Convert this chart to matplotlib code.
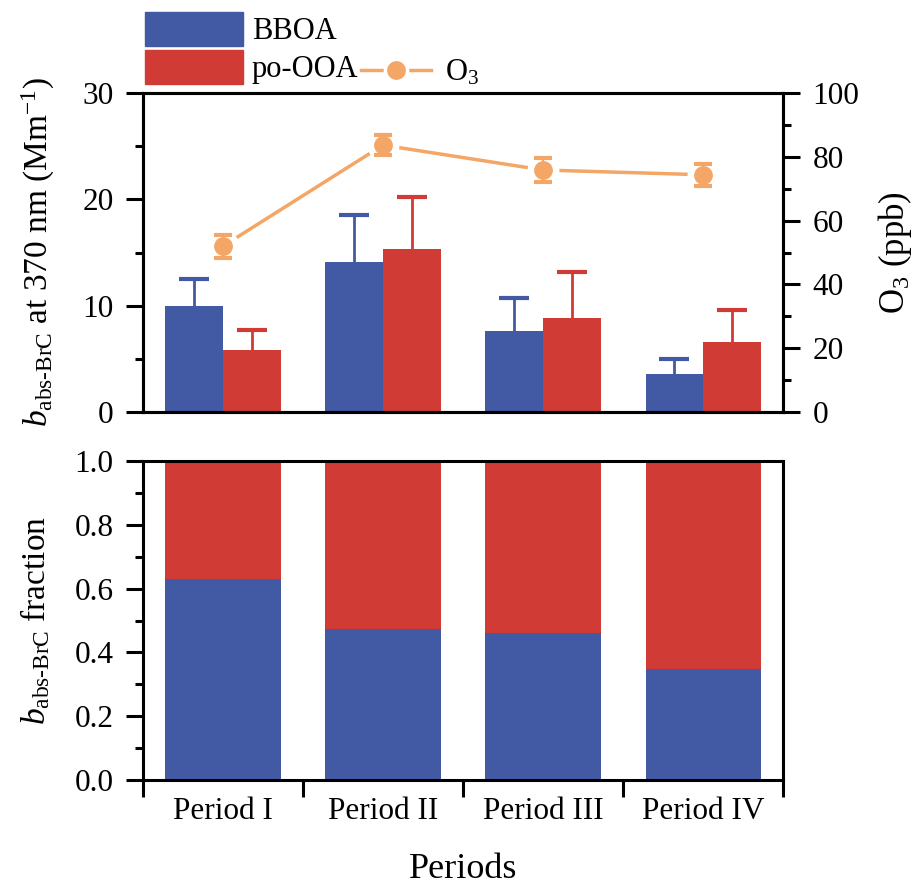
import matplotlib
matplotlib.use("Agg")
import matplotlib.pyplot as plt
import numpy as np
from matplotlib.patches import Patch
from matplotlib.lines import Line2D
from matplotlib.ticker import MultipleLocator

plt.rcParams['font.family'] = ['Liberation Serif', 'DejaVu Serif']
plt.rcParams['mathtext.fontset'] = 'custom'
plt.rcParams['mathtext.rm'] = 'Liberation Serif'
plt.rcParams['mathtext.it'] = 'Liberation Serif:italic'

# data
periods = ['Period I', 'Period II', 'Period III', 'Period IV']
bboa = [10.0, 14.1, 7.65, 3.6]
bboa_err = [2.5, 4.4, 3.1, 1.35]
pooa = [5.8, 15.3, 8.8, 6.55]
pooa_err = [1.95, 4.9, 4.4, 3.05]
o3 = [52.0, 83.7, 75.9, 74.4]
o3_err = [3.6, 3.1, 3.9, 3.4]
frac_bboa = [0.63, 0.473, 0.46, 0.349]

c_blue = '#4259a3'
c_red = '#d03c35'
c_orange = '#f3a665'

fig = plt.figure(figsize=(9.16, 8.89), dpi=100)
ax1 = fig.add_axes([0.156, 0.5366, 0.699, 0.3586])
ax2 = fig.add_axes([0.156, 0.1226, 0.699, 0.3588])

x = np.arange(len(periods))
w = 0.36

ax1.bar(x - w / 2, bboa, w, color=c_blue, zorder=2)
ax1.bar(x + w / 2, pooa, w, color=c_red, zorder=2)
for xs, vals, errs, col in [(x - w / 2, bboa, bboa_err, c_blue),
                            (x + w / 2, pooa, pooa_err, c_red)]:
    eb = ax1.errorbar(xs, vals, yerr=[np.zeros(4), errs], fmt='none',
                      ecolor=col, elinewidth=2, capsize=11, capthick=3, zorder=1)
    eb[1][0].set_visible(False)  # hide lower caps (one-sided bars)
ax1.set_xlim(-0.5, 3.5)
ax1.set_ylim(0, 30)
ax1.set_xticks([])
ax1.yaxis.set_major_locator(MultipleLocator(10))
ax1.yaxis.set_minor_locator(MultipleLocator(5))
ax1.set_ylabel(r'$b_{\mathrm{abs\text{-}BrC}}$ at 370 nm (Mm$^{-1}$)', fontsize=24, labelpad=18)

ax3 = ax1.twinx()
ax3.plot(x, o3, color=c_orange, lw=2.5, zorder=2)
ax3.plot(x, o3, 'o', color='white', ms=22, zorder=3)
ax3.errorbar(x, o3, yerr=o3_err, fmt='o', color=c_orange, ms=12.5,
             elinewidth=1.5, capsize=6.5, capthick=3, zorder=4)
ax3.set_ylim(0, 100)
ax3.yaxis.set_major_locator(MultipleLocator(20))
ax3.yaxis.set_minor_locator(MultipleLocator(10))
ax3.set_ylabel('O$_3$ (ppb)', fontsize=25, labelpad=12)

ax2.bar(x, frac_bboa, 0.72, color=c_blue)
ax2.bar(x, 1 - np.array(frac_bboa), 0.72, bottom=frac_bboa, color=c_red)
ax2.set_xlim(-0.5, 3.5)
ax2.set_ylim(0, 1)
ax2.yaxis.set_minor_locator(MultipleLocator(0.1))
ax2.set_yticks(np.arange(0, 1.01, 0.2))
ax2.set_yticklabels(['%.1f' % v for v in np.arange(0, 1.01, 0.2)])
ax2.set_xticks([-0.5, 0.5, 1.5, 2.5, 3.5])
ax2.set_xticklabels([])
ax2.set_xticks(x, minor=True)
ax2.set_xticklabels(periods, minor=True)
ax2.set_ylabel(r'$b_{\mathrm{abs\text{-}BrC}}$ fraction', fontsize=24, labelpad=16)
ax2.set_xlabel('Periods', fontsize=26, labelpad=20)

for ax in (ax1, ax2, ax3):
    for s in ax.spines.values():
        s.set_linewidth(2.2)
    ax.tick_params(which='major', direction='out', length=12, width=2.2, labelsize=22.5, pad=9)
    ax.tick_params(which='minor', direction='out', length=6, width=2.2)
ax2.tick_params(axis='x', which='minor', length=0, pad=12, labelsize=22.5)
ax1.tick_params(axis='x', which='both', length=0)

# legend
h1 = [Patch(color=c_blue), Patch(color=c_red)]
fig.legend(h1, ['BBOA', 'po-OOA'], loc='upper left', bbox_to_anchor=(0.158, 0.9865),
           frameon=False, fontsize=22, handlelength=3.2, handleheight=1.33,
           labelspacing=0.12, handletextpad=0.3, borderpad=0, borderaxespad=0)
h2 = [Line2D([], [], color=c_orange, lw=2.5, marker='o', ms=16, mec='white', mew=2.5)]
fig.legend(h2, ['O$_3$'], loc='upper left', bbox_to_anchor=(0.394, 0.9348),
           frameon=False, fontsize=22, handlelength=2.3, handletextpad=0.45,
           borderpad=0, borderaxespad=0)

fig.savefig('out.png', dpi=100)
